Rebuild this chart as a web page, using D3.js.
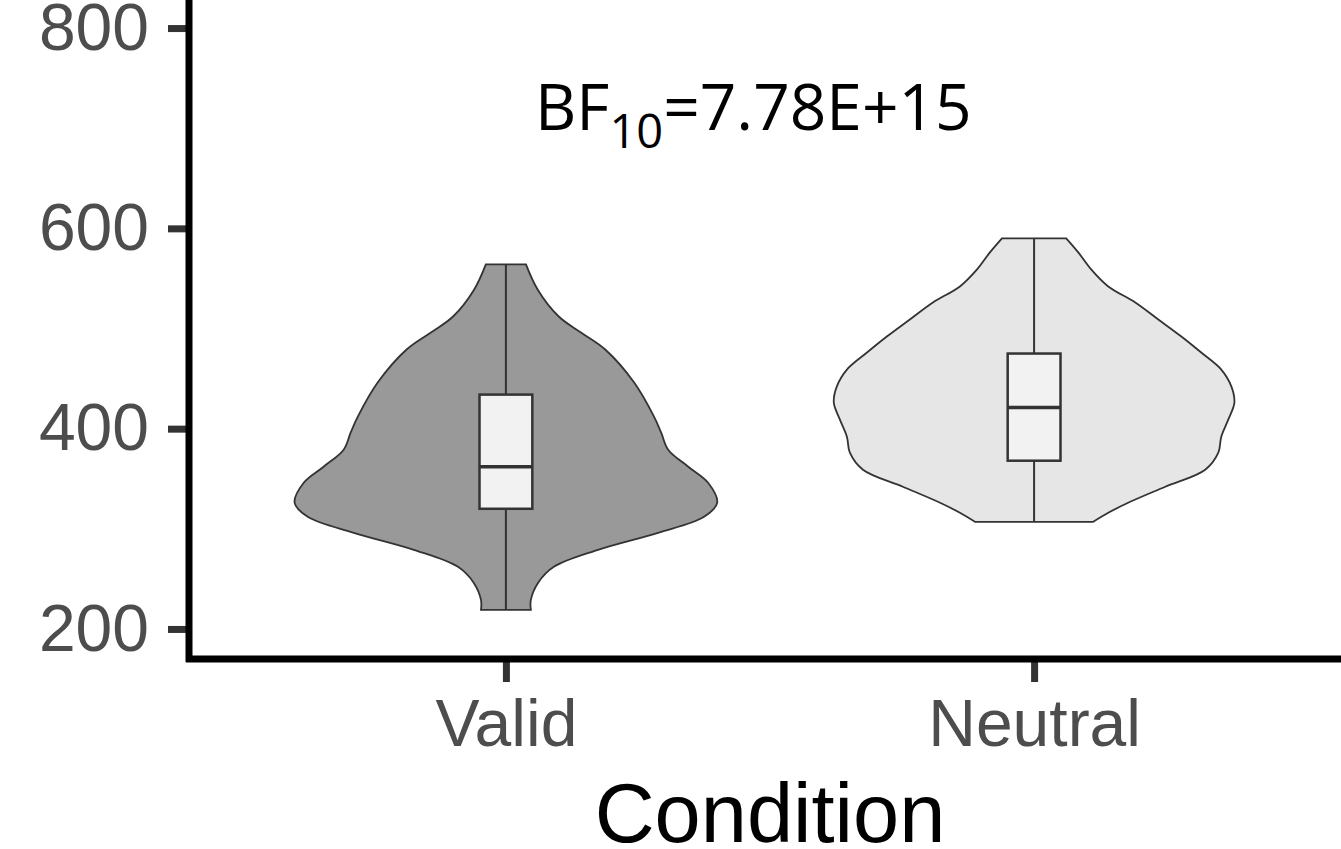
<!doctype html>
<html>
  <head>
    <script src="https://cdnjs.cloudflare.com/ajax/libs/d3/7.8.5/d3.min.js"></script>
    <style>
      body {
        margin: 0;
        background: #fff;
      }
      .tick text {
        font-family: "Liberation Sans", Arial, sans-serif;
        fill: #4d4d4d;
      }
      .violin {
        stroke: #333;
        stroke-width: 1.8px;
      }
      .box {
        fill: #f2f2f2;
        stroke: #333;
        stroke-width: 2.5px;
      }
    </style>
  </head>
  <body>
    <svg id="chart" width="1341" height="849"></svg>
    <script>
      // conditions on the x axis
      var categories = ["Valid", "Neutral"];
      var violinFill = ["#999999", "#e6e6e6"];
      var yTicks = [200, 400, 600, 800];

      // violin outlines: RT (ms) and relative density
      var validRT = [564, 539, 512, 496, 479, 446, 412, 396, 379, 362, 346, 326, 312, 296, 279, 262, 246, 229, 219];
      var validDensity = [0.095, 0.15, 0.25, 0.355, 0.47, 0.607, 0.701, 0.735, 0.768, 0.863, 0.957, 1.0, 0.938, 0.72, 0.436, 0.227, 0.152, 0.118, 0.118];
      var neutralRT = [590, 576, 559, 542, 526, 509, 492, 476, 459, 442, 426, 409, 392, 376, 359, 342, 326, 316, 307];
      var neutralDensity = [0.152, 0.209, 0.27, 0.351, 0.479, 0.588, 0.697, 0.791, 0.886, 0.934, 0.948, 0.919, 0.886, 0.872, 0.81, 0.621, 0.445, 0.351, 0.28];

      // boxplot summaries, one per condition
      var boxMin = [219, 307];
      var boxQ1 = [320, 368];
      var boxMedian = [362, 421];
      var boxQ3 = [434, 475];
      var boxMax = [564, 590];

      var svg = d3.select("#chart");

      var x = d3.scalePoint()
          .domain(categories)
          .range([189, 1351])
          .padding(0.6);
      var step = x.step();

      var y = d3.scaleLinear()
          .domain([170, 830])
          .range([659, -2]);

      var w = d3.scaleLinear()
          .domain([0, 1])
          .range([0, 0.4 * step]);

      var violins = [
        { cat: "Valid", rt: validRT, dens: validDensity },
        { cat: "Neutral", rt: neutralRT, dens: neutralDensity }
      ];

      var area = d3.area()
          .curve(d3.curveCatmullRom)
          .y(d => y(d.v));

      svg.selectAll("path.violin")
        .data(violins)
        .enter()
        .append("path")
          .attr("class", "violin")
          .attr("fill", (d, i) => violinFill[i])
          .attr("d", d => {
            var cx = x(d.cat);
            var pts = d.rt.map((v, i) => ({ v: v, h: w(d.dens[i]) }));
            return area.x0(p => cx - p.h).x1(p => cx + p.h)(pts);
          });

      // whiskers
      svg.selectAll("line.whisker")
        .data(categories)
        .enter()
        .append("line")
          .attr("stroke", "#333")
          .attr("stroke-width", 2)
          .attr("x1", d => x(d))
          .attr("x2", d => x(d))
          .attr("y1", (d, i) => y(boxMin[i]))
          .attr("y2", (d, i) => y(boxMax[i]));

      var bw = 0.1 * step;
      svg.selectAll("rect.box")
        .data(categories)
        .enter()
        .append("rect")
          .attr("class", "box")
          .attr("x", d => x(d) - bw / 2)
          .attr("width", bw)
          .attr("y", (d, i) => y(boxQ3[i]))
          .attr("height", (d, i) => y(boxQ1[i]) - y(boxQ3[i]));

      svg.selectAll("line.median")
        .data(categories)
        .enter()
        .append("line")
          .attr("stroke", "#333")
          .attr("stroke-width", 3.5)
          .attr("x1", d => x(d) - bw / 2)
          .attr("x2", d => x(d) + bw / 2)
          .attr("y1", (d, i) => y(boxMedian[i]))
          .attr("y2", (d, i) => y(boxMedian[i]));

      // axes
      var yAxis = svg.append("g")
          .attr("transform", "translate(186,0)")
          .call(d3.axisLeft(y).tickValues(yTicks).tickSize(18).tickPadding(19));
      var xAxis = svg.append("g")
          .attr("transform", "translate(0,659)")
          .call(d3.axisBottom(x).tickSize(23).tickPadding(17));

      [yAxis, xAxis].forEach(g => {
        g.select(".domain").remove();
        g.selectAll(".tick line").attr("stroke", "#333").attr("stroke-width", 7);
        g.selectAll(".tick text").style("font-size", "66px");
      });

      svg.append("line")
          .attr("x1", 189).attr("x2", 189)
          .attr("y1", -5).attr("y2", 662)
          .attr("stroke", "#000").attr("stroke-width", 7);
      svg.append("line")
          .attr("x1", 186).attr("x2", 1345)
          .attr("y1", 659).attr("y2", 659)
          .attr("stroke", "#000").attr("stroke-width", 7);

      svg.append("text")
          .attr("x", (189 + 1351) / 2)
          .attr("y", 842)
          .attr("text-anchor", "middle")
          .style("font-family", "'Liberation Sans', Arial, sans-serif")
          .style("font-size", "83px")
          .style("fill", "#000")
          .text("Condition");

      // Bayes factor annotation
      var bf = svg.append("text")
          .attr("x", 535)
          .attr("y", 130)
          .style("font-family", "'Open Sans', sans-serif")
          .style("font-size", "64px")
          .style("fill", "#000");
      bf.append("tspan").text("BF");
      bf.append("tspan").attr("dy", 18).style("font-size", "47px").text("10");
      bf.append("tspan").attr("dy", -18).text("=7.78E+15");
    </script>
  </body>
</html>
